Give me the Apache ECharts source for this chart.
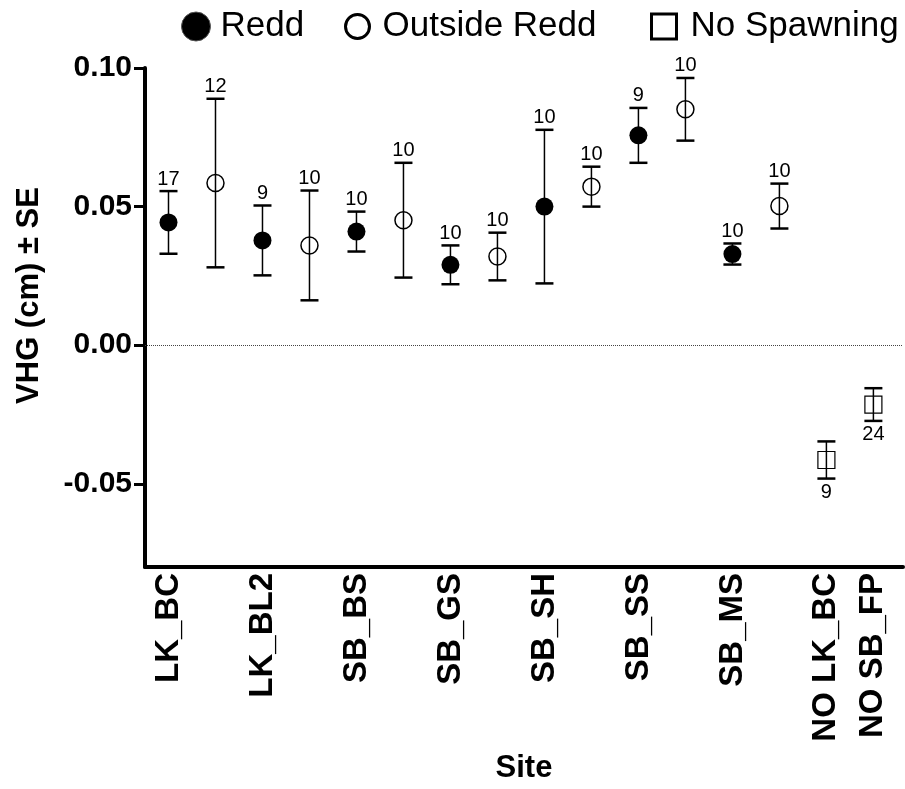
<!DOCTYPE html>
<html>
<head>
<meta charset="utf-8">
<script src="https://cdn.jsdelivr.net/npm/echarts@6/dist/echarts.min.js"></script>
<style>
  html, body { margin: 0; padding: 0; background: #fff; }
  #chart { width: 905px; height: 789px; }
</style>
</head>
<body>
<div id="chart"></div>
<script>
const FONT = '"Liberation Sans", Arial, sans-serif';

// sites with redd / outside-redd pairs
const sites = ['LK_BC', 'LK_BL2', 'SB_BS', 'SB_GS', 'SB_SH', 'SB_SS', 'SB_MS'];
const reddMean = [0.0443, 0.0378, 0.0410, 0.0290, 0.0500, 0.0757, 0.0329];
const reddSE = [0.0113, 0.0126, 0.0072, 0.0070, 0.0277, 0.0099, 0.0038];
const reddN = [17, 9, 10, 10, 10, 9, 10];
const outMean = [0.0585, 0.0360, 0.0451, 0.0320, 0.0572, 0.0851, 0.0502];
const outSE = [0.0304, 0.0198, 0.0207, 0.0086, 0.0072, 0.0113, 0.0081];
const outN = [12, 10, 10, 10, 10, 10, 10];

// no spawning sites
const noSites = ['NO LK_BC', 'NO SB_FP'];
const noMean = [-0.0414, -0.0214];
const noSE = [0.0067, 0.0059];
const noN = [9, 24];

const yTicks = [-0.05, 0, 0.05, 0.10];

// slot on the x axis: pairs take two slots, no-spawning sites one each
const reddX = sites.map((s, i) => i * 2 + 1);
const outX = sites.map((s, i) => i * 2 + 2);
const noX = noSites.map((s, i) => sites.length * 2 + 1 + i);

const slotNames = {};
reddX.forEach((x, i) => { slotNames[x] = sites[i]; });
noX.forEach((x, i) => { slotNames[x] = noSites[i]; });

function points(xs, mean) {
  return xs.map((x, i) => [x, mean[i]]);
}
function bars(xs, mean, se, n) {
  return xs.map((x, i) => [x, mean[i] - se[i], mean[i] + se[i], n[i]]);
}

function errorBars(below) {
  return function (params, api) {
    const x = api.value(0);
    const top = api.coord([x, api.value(2)]);
    const bot = api.coord([x, api.value(1)]);
    const hw = 9;
    const ink = { stroke: '#000', lineWidth: 1.5 };
    const cap = { stroke: '#000', lineWidth: 2.5 };
    return {
      type: 'group',
      children: [
        { type: 'line', shape: { x1: top[0], y1: top[1], x2: bot[0], y2: bot[1] }, style: ink },
        { type: 'line', shape: { x1: top[0] - hw, y1: top[1], x2: top[0] + hw, y2: top[1] }, style: cap },
        { type: 'line', shape: { x1: bot[0] - hw, y1: bot[1], x2: bot[0] + hw, y2: bot[1] }, style: cap },
        {
          type: 'text',
          x: top[0],
          y: below ? bot[1] + 4 : top[1] - 2,
          style: {
            text: String(api.value(3)),
            align: 'center',
            verticalAlign: below ? 'top' : 'bottom',
            fontSize: 20,
            fontFamily: FONT,
            fill: '#000'
          }
        }
      ]
    };
  };
}

const legendText = (gap) => ({ fontSize: 35, fontFamily: FONT, color: '#000', padding: [0, 0, 0, gap] });

const chart = echarts.init(document.getElementById('chart'));
chart.setOption({
  backgroundColor: '#fff',
  animation: false,
  textStyle: { fontFamily: FONT, color: '#000' },
  legend: [
    {
      left: 176, top: 4, itemWidth: 29, itemHeight: 29, selectedMode: false,
      textStyle: legendText(5),
      data: [{ name: 'Redd', icon: 'circle', itemStyle: { color: '#000', borderColor: '#555', borderWidth: 1 } }]
    },
    {
      left: 339, top: 4, itemWidth: 24, itemHeight: 24, selectedMode: false,
      textStyle: legendText(8),
      data: [{ name: 'Outside Redd', icon: 'circle', itemStyle: { color: '#fff', borderColor: '#000', borderWidth: 3 } }]
    },
    {
      left: 645, top: 4, itemWidth: 25, itemHeight: 25, selectedMode: false,
      textStyle: legendText(9),
      data: [{ name: 'No Spawning', icon: 'rect', itemStyle: { color: '#fff', borderColor: '#000', borderWidth: 3 } }]
    }
  ],
  grid: { left: 145, right: 2, top: 68, bottom: 219 },
  xAxis: {
    type: 'value',
    min: 0.5,
    max: 16.63,
    name: 'Site',
    nameLocation: 'middle',
    nameGap: 186,
    nameTextStyle: { fontSize: 31, fontWeight: 'bold', fontFamily: FONT, color: '#000' },
    axisLine: { show: true, onZero: false, lineStyle: { color: '#000', width: 4 } },
    axisTick: { show: false },
    splitLine: { show: false },
    axisLabel: {
      customValues: reddX.concat(noX),
      rotate: 90,
      margin: 6,
      fontSize: 33,
      fontWeight: 'bold',
      fontFamily: FONT,
      color: '#000',
      formatter: v => slotNames[v] || ''
    }
  },
  yAxis: {
    type: 'value',
    min: -0.08,
    max: 0.10,
    name: 'VHG (cm) ± SE',
    nameLocation: 'middle',
    nameGap: 100,
    nameTextStyle: { fontSize: 31, fontWeight: 'bold', fontFamily: FONT, color: '#000', padding: [0, 0, 0, 44] },
    axisLine: { show: true, lineStyle: { color: '#000', width: 4 } },
    axisTick: { show: true, customValues: yTicks, length: 11, lineStyle: { color: '#000', width: 3 } },
    splitLine: { show: false },
    axisLabel: {
      customValues: yTicks,
      margin: 13,
      fontSize: 30,
      fontWeight: 'bold',
      fontFamily: FONT,
      color: '#000',
      formatter: v => v.toFixed(2)
    }
  },
  series: [
    {
      type: 'custom',
      name: 'err-pairs',
      clip: false,
      z: 1,
      renderItem: errorBars(false),
      data: bars(reddX, reddMean, reddSE, reddN).concat(bars(outX, outMean, outSE, outN)),
      markLine: {
        silent: true,
        symbol: 'none',
        label: { show: false },
        lineStyle: { color: '#444', type: 'dotted', width: 1 },
        data: [{ yAxis: 0 }]
      }
    },
    {
      type: 'custom',
      name: 'err-no',
      clip: false,
      z: 1,
      renderItem: errorBars(true),
      data: bars(noX, noMean, noSE, noN)
    },
    {
      type: 'scatter',
      name: 'Redd',
      symbol: 'circle',
      symbolSize: 18,
      z: 3,
      itemStyle: { color: '#000', opacity: 1 },
      data: points(reddX, reddMean)
    },
    {
      type: 'scatter',
      name: 'Outside Redd',
      symbol: 'circle',
      symbolSize: 17,
      z: 3,
      itemStyle: { color: 'rgba(0,0,0,0)', borderColor: '#000', borderWidth: 1.5, opacity: 1 },
      data: points(outX, outMean)
    },
    {
      type: 'scatter',
      name: 'No Spawning',
      symbol: 'rect',
      symbolSize: 17,
      z: 3,
      itemStyle: { color: 'rgba(0,0,0,0)', borderColor: '#000', borderWidth: 1.2, opacity: 1 },
      data: points(noX, noMean)
    }
  ]
});
</script>
</body>
</html>
